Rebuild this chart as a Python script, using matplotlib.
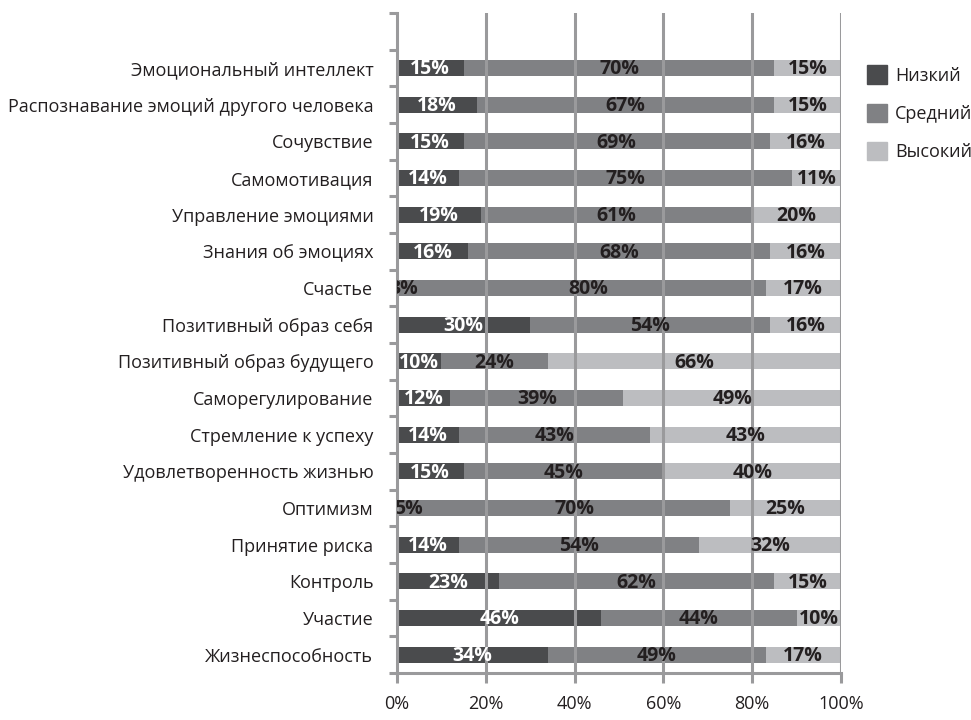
import matplotlib
matplotlib.use('Agg')
import matplotlib.pyplot as plt
import numpy as np

plt.rcParams['font.family'] = ['Open Sans', 'DejaVu Sans']

# categories, top to bottom as in the picture
categories = [
    "Эмоциональный интеллект",
    "Распознавание эмоций другого человека",
    "Сочувствие",
    "Самомотивация",
    "Управление эмоциями",
    "Знания об эмоциях",
    "Счастье",
    "Позитивный образ себя",
    "Позитивный образ будущего",
    "Саморегулирование",
    "Стремление к успеху",
    "Удовлетворенность жизнью",
    "Оптимизм",
    "Принятие риска",
    "Контроль",
    "Участие",
    "Жизнеспособность",
]
low = [15, 18, 15, 14, 19, 16, 3, 30, 10, 12, 14, 15, 5, 14, 23, 46, 34]
mid = [70, 67, 69, 75, 61, 68, 80, 54, 24, 39, 43, 45, 70, 54, 62, 44, 49]
high = [15, 15, 16, 11, 20, 16, 17, 16, 66, 49, 43, 40, 25, 32, 15, 10, 17]
series_names = ["Низкий", "Средний", "Высокий"]
x_ticks = [0, 20, 40, 60, 80, 100]

C_LOW = "#4a4b4d"
C_MID = "#808184"
C_HIGH = "#bcbdc0"
GRID = "#9a9a9c"
TEXT = "#231f20"

fig = plt.figure(figsize=(9.71, 7.2), dpi=100)
ax = fig.add_axes([397 / 971, 1 - 673 / 720, 444 / 971, 660 / 720])

n = len(categories)
y = np.arange(n)[::-1]  # first category at the top
h = 0.44

low_a = np.array(low)
mid_a = np.array(mid)
high_a = np.array(high)

# the small dark segments (3%, 5%) are drawn in the middle colour in the original
low_colors = [C_MID if v < 6 else C_LOW for v in low]

ax.barh(y, low_a, height=h, color=low_colors, zorder=2)
ax.barh(y, mid_a, left=low_a, height=h, color=C_MID, zorder=2)
ax.barh(y, high_a, left=low_a + mid_a, height=h, color=C_HIGH, zorder=2)

lab_kw = dict(ha="center", va="center", fontsize=14, fontweight="bold", zorder=5, clip_on=True)
for yi, a, b, c in zip(y, low_a, mid_a, high_a):
    ax.text(a / 2, yi - 0.04, f"{a}%", color="white" if a >= 6 else TEXT, **lab_kw)
    ax.text(a + b / 2, yi - 0.04, f"{b}%", color=TEXT, **lab_kw)
    ax.text(a + b + c / 2, yi - 0.04, f"{c}%", color=TEXT, **lab_kw)

ax.set_xlim(0, 100)
ax.set_ylim(-0.5, n + 0.5)

# vertical gridlines above the bars
for xv in x_ticks[1:]:
    ax.axvline(xv, color=GRID, lw=2.2, zorder=3)

ax.set_xticks(x_ticks)
ax.set_xticklabels([f"{v}%" for v in x_ticks], fontsize=13, color=TEXT)
ax.tick_params(axis="x", length=7, width=2.2, color=GRID, pad=9)

ax.set_yticks(np.arange(-0.5, n + 0.6, 1.0))
ax.set_yticklabels([])
ax.set_yticks(y, minor=True)
ax.set_yticklabels(categories, minor=True, fontsize=13, color=TEXT)
ax.tick_params(axis="y", which="major", length=6, width=2.2, color=GRID)
ax.tick_params(axis="y", which="minor", length=0, pad=17)

for side in ["top", "right"]:
    ax.spines[side].set_visible(False)
for side in ["left", "bottom"]:
    ax.spines[side].set_color(GRID)
    ax.spines[side].set_linewidth(2.2)
    ax.spines[side].set_zorder(3)

handles = [plt.Rectangle((0, 0), 1, 1, color=c) for c in (C_LOW, C_MID, C_HIGH)]
fig.legend(handles, series_names, loc="upper left", bbox_to_anchor=(860 / 971, 1 - 58 / 720),
           frameon=False, fontsize=13, handlelength=1.1, handleheight=1.2,
           labelspacing=1.05, handletextpad=0.45, borderaxespad=0, labelcolor=TEXT)

fig.savefig("out.png", dpi=100)
